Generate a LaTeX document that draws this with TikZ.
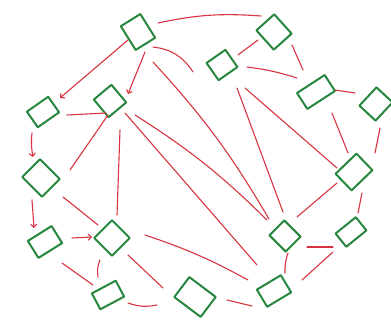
\documentclass[tikz,border=0pt]{standalone}
\usetikzlibrary{arrows.meta}
\definecolor{gr}{RGB}{40,135,62}
\definecolor{rd}{RGB}{216,52,66}
\begin{document}
\begin{tikzpicture}[x=1pt,y=-1pt,
  sq/.style={draw=gr,line width=2pt,line join=round,inner sep=0pt,outer sep=0pt,shape=rectangle},
  ed/.style={draw=rd,line width=1.1pt,line cap=round},
  ar/.style={ed,-{Straight Barb[length=3pt,width=6pt]}}]
\useasboundingbox[fill=white] (0,0) rectangle (391,320);
% nodes
\node[sq,minimum width=23pt,minimum height=28pt,rotate=32] (n1) at (138,32) {};
\node[sq,minimum width=24pt,minimum height=26pt,rotate=42] (n2) at (274,32) {};
\node[sq,minimum width=23pt,minimum height=21pt,rotate=35] (n3) at (222,65) {};
\node[sq,minimum width=23pt,minimum height=23pt,rotate=40] (n4) at (110,101) {};
\node[sq,minimum width=26pt,minimum height=19pt,rotate=35] (n5) at (43,112) {};
\node[sq,minimum width=33pt,minimum height=19pt,rotate=33] (n6) at (316,92) {};
\node[sq,minimum width=25pt,minimum height=22pt,rotate=47] (n7) at (376,104) {};
\node[sq,minimum width=25pt,minimum height=28pt,rotate=45] (n8) at (41,178) {};
\node[sq,minimum width=29pt,minimum height=23pt,rotate=44] (n9) at (354,172) {};
\node[sq,minimum width=26pt,minimum height=17pt,rotate=39] (n10) at (351,232) {};
\node[sq,minimum width=21pt,minimum height=23pt,rotate=45] (n11) at (285,236) {};
\node[sq,minimum width=25pt,minimum height=25pt,rotate=45] (n12) at (112,238) {};
\node[sq,minimum width=28pt,minimum height=20pt,rotate=32] (n13) at (45,242) {};
\node[sq,minimum width=27pt,minimum height=18pt,rotate=28] (n14) at (108,295) {};
\node[sq,minimum width=25pt,minimum height=33pt,rotate=53] (n15) at (195,297) {};
\node[sq,minimum width=28pt,minimum height=20pt,rotate=31] (n16) at (274,291) {};
% connectors
\draw[ed] ([shift={(20,-9)}]n1.center) to[bend left=8] ([shift={(-13,-16)}]n2.center);
\draw[ar] ([shift={(-10,8)}]n1.center) -- ([shift={(17,-14)}]n5.center);
\draw[ar] ([shift={(7,20)}]n1.center) -- ([shift={(18,-7)}]n4.center);
\draw[ed] ([shift={(15,15)}]n1.center) to[bend left=25] ([shift={(-29,7)}]n3.center);
\draw[ed] ([shift={(15,30)}]n1.center) to[bend left=6] ([shift={(-16,-17)}]n11.center);
\draw[ed] ([shift={(25,14)}]n4.center) to[bend left=6] ([shift={(-18,-16)}]n11.center);
\draw[ed] ([shift={(15,12)}]n4.center) -- ([shift={(-17,-26)}]n16.center);
\draw[ed] ([shift={(10,29)}]n4.center) -- ([shift={(5,-23)}]n12.center);
\draw[ed] ([shift={(-2,14)}]n4.center) -- ([shift={(29,-8)}]n8.center);
\draw[ed] ([shift={(24,3)}]n5.center) -- ([shift={(-4,12)}]n4.center);
\draw[ar] ([shift={(-11,21)}]n5.center) to[bend right=8] ([shift={(-8,-21)}]n8.center);
\draw[ar] ([shift={(-9,22)}]n8.center) -- ([shift={(-11,-14)}]n13.center);
\draw[ed] ([shift={(22,19)}]n8.center) -- ([shift={(-14,-13)}]n12.center);
\draw[ar] ([shift={(27,-4)}]n13.center) -- ([shift={(-20,-1)}]n12.center);
\draw[ed] ([shift={(17,21)}]n13.center) -- ([shift={(-15,-10)}]n14.center);
\draw[ed] ([shift={(-12,22)}]n12.center) to[bend right=15] ([shift={(-10,-18)}]n14.center);
\draw[ed] ([shift={(16,17)}]n12.center) -- ([shift={(-32,-9)}]n15.center);
\draw[ed] ([shift={(20,8)}]n14.center) to[bend right=15] ([shift={(-38,8)}]n15.center);
\draw[ed] ([shift={(33,-3)}]n12.center) to[bend left=5] ([shift={(-26,-11)}]n16.center);
\draw[ed] ([shift={(32,3)}]n15.center) -- ([shift={(-22,15)}]n16.center);
\draw[ed] ([shift={(3,17)}]n11.center) to[bend right=10] ([shift={(11,-18)}]n16.center);
\draw[ed] ([shift={(22,11)}]n11.center) -- ([shift={(-18,15)}]n10.center);
\draw[ed] ([shift={(-18,20)}]n10.center) -- ([shift={(28,-11)}]n16.center);
\draw[ed] ([shift={(8,21)}]n9.center) -- ([shift={(7,-19)}]n10.center);
\draw[ed] ([shift={(-17,11)}]n9.center) -- ([shift={(12,-19)}]n11.center);
\draw[ed] ([shift={(23,23)}]n3.center) -- ([shift={(-17,-4)}]n9.center);
\draw[ed] ([shift={(15,23)}]n3.center) -- ([shift={(-2,-24)}]n11.center);
\draw[ed] ([shift={(16,-10)}]n3.center) -- ([shift={(-16,8)}]n2.center);
\draw[ed] ([shift={(25,2)}]n3.center) to[bend left=5] ([shift={(-19,-14)}]n6.center);
\draw[ed] ([shift={(18,13)}]n2.center) -- ([shift={(-13,-22)}]n6.center);
\draw[ed] ([shift={(19,-2)}]n6.center) -- ([shift={(-21,-11)}]n7.center);
\draw[ed] ([shift={(16,21)}]n6.center) -- ([shift={(-6,-19)}]n9.center);
\draw[ed] ([shift={(4,24)}]n7.center) -- ([shift={(21,-19)}]n9.center);
\end{tikzpicture}
\end{document}
